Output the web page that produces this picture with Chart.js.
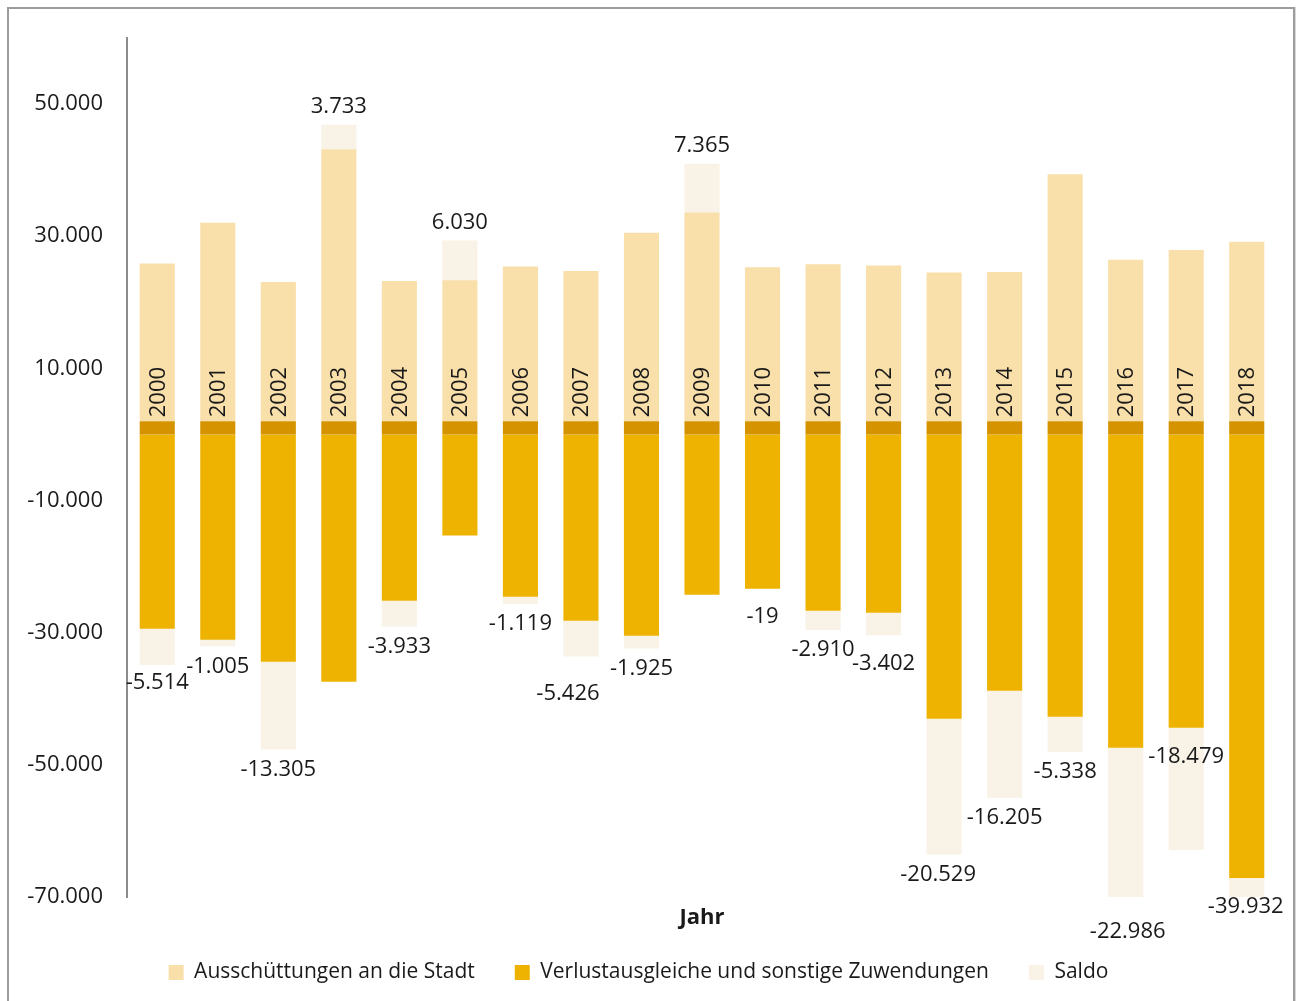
<!DOCTYPE html>
<html lang="de">
<head>
  <meta charset="UTF-8" />
  <title>Ausschüttungen und Verlustausgleiche</title>
  <style>
    html, body {
      margin: 0;
      padding: 0;
      background: #fff;
    }
    .grafik {
      position: absolute;
      left: 0;
      top: 0;
      width: 1296px;
      height: 1001px;
    }
    .rahmen {
      position: absolute;
      left: 7px;
      top: 7px;
      width: 1284px;
      height: 1010px;
      border: 2px solid #9c9c9c;
      border-bottom: none;
      box-shadow: 2px 0 0 #dadada;
      pointer-events: none;
    }
  </style>
</head>
<body>

  <div class="grafik"><canvas id="grafik" width="1296" height="1001"></canvas></div>
  <div class="rahmen"></div>

  <script src="https://cdn.jsdelivr.net/npm/chart.js"></script>
  <script>
    // Werte in Tausend Euro
    const jahre = ['2000', '2001', '2002', '2003', '2004', '2005', '2006', '2007', '2008', '2009',
                   '2010', '2011', '2012', '2013', '2014', '2015', '2016', '2017', '2018'];
    const sockel = [2000, 2000, 2000, 2000, 2000, 2000, 2000, 2000, 2000, 2000,
                    2000, 2000, 2000, 2000, 2000, 2000, 2000, 2000, 2000];
    const ausschuettungen = [23880, 30056, 21085, 41153, 21216, 21332, 23424, 22753, 28527, 31605,
                             23312, 23754, 23565, 22497, 22579, 37385, 24434, 25911, 27183];
    const verlustausgleiche = [-29394, -31061, -34390, -37420, -25149, -15302, -24543, -28179, -30452, -24240,
                               -23331, -26664, -26967, -43026, -38784, -42723, -47420, -44390, -67115];
    const saldo = [-5514, -1005, -13305, 3733, -3933, 6030, -1119, -5426, -1925, 7365,
                   -19, -2910, -3402, -20529, -16205, -5338, -22986, -18479, -39932];
    const yTicks = [-70000, -50000, -30000, -10000, 10000, 30000, 50000];

    function zahl(v) {
      const s = Math.abs(v).toString().replace(/\B(?=(\d{3})+(?!\d))/g, '.');
      return (v < 0 ? '-' : '') + s;
    }

    // kleine Verschiebungen der Saldo-Beschriftungen wie in der Vorlage
    const versatz = { 0: [0, -2], 7: [-13, 17], 10: [0, 8], 12: [0, 9], 13: [-6, 0],
                      16: [2, 15], 17: [0, -113], 18: [-1, -10] };

    const beschriftung = {
      id: 'beschriftung',
      afterDatasetsDraw(chart) {
        const { ctx, chartArea } = chart;
        const metaSockel = chart.getDatasetMeta(0);
        const metaSaldo = chart.getDatasetMeta(3);
        ctx.save();
        ctx.fillStyle = '#1a1a1a';
        ctx.font = '22px "Open Sans"';

        metaSockel.data.forEach((bar, i) => {
          ctx.save();
          ctx.translate(bar.x, bar.y - 4);
          ctx.rotate(-Math.PI / 2);
          ctx.textAlign = 'left';
          ctx.textBaseline = 'middle';
          ctx.fillText(jahre[i], 0, 1);
          ctx.restore();
        });

        ctx.textAlign = 'center';
        ctx.textBaseline = 'middle';
        metaSaldo.data.forEach((bar, i) => {
          const v = saldo[i];
          const d = versatz[i] || [0, 0];
          const y = v > 0 ? bar.y - 18 : Math.min(bar.y, chartArea.bottom) + 20;
          ctx.fillText(zahl(v), bar.x + d[0], y + d[1]);
        });

        ctx.font = 'bold 22px "Open Sans"';
        ctx.fillText('Jahr', (chartArea.left + chartArea.right) / 2, chartArea.bottom + 21);
        ctx.restore();
      }
    };

    Chart.defaults.font.family = '"Open Sans", sans-serif';
    Chart.defaults.font.size = 22;
    Chart.defaults.color = '#1a1a1a';

    new Chart(document.getElementById('grafik'), {
      type: 'bar',
      data: {
        labels: jahre,
        datasets: [
          { label: 'Sockel', data: sockel, backgroundColor: '#d69300' },
          { label: 'Ausschüttungen an die Stadt', data: ausschuettungen, backgroundColor: '#f9dfaa' },
          { label: 'Verlustausgleiche und sonstige Zuwendungen', data: verlustausgleiche, backgroundColor: '#eeb300' },
          { label: 'Saldo', data: saldo, backgroundColor: '#f9f2e6' }
        ]
      },
      options: {
        responsive: false,
        animation: false,
        devicePixelRatio: 1,
        datasets: {
          bar: { stack: 'eins', barPercentage: 0.58, categoryPercentage: 1, borderWidth: 0 }
        },
        layout: { padding: { left: 0, right: 19, top: 38, bottom: 8 } },
        plugins: {
          tooltip: { enabled: false },
          legend: {
            position: 'bottom',
            labels: {
              boxWidth: 15,
              boxHeight: 15,
              padding: 40,
              font: { size: 21 },
              filter: item => item.datasetIndex > 0
            }
          }
        },
        scales: {
          x: {
            stacked: true,
            grid: { display: false, drawTicks: false },
            border: { display: false },
            ticks: { display: false },
            afterFit: s => { s.height = 1001 - 8 - 897 - s.chart.legend.height; }
          },
          y: {
            stacked: true,
            min: -70000,
            max: 60000,
            grid: { display: false, drawTicks: false },
            border: { display: true, color: '#8c8c8c', width: 2 },
            ticks: { padding: 24, callback: v => zahl(v) },
            afterBuildTicks: s => { s.ticks = yTicks.map(v => ({ value: v })); },
            afterFit: s => { s.width = 127; }
          }
        }
      },
      plugins: [beschriftung]
    });
  </script>
</body>
</html>
